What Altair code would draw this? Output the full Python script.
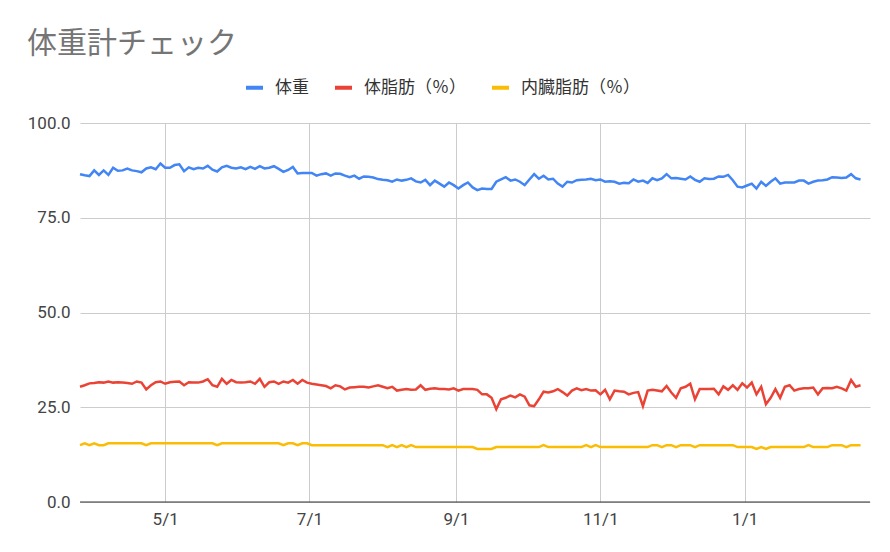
import altair as alt
import pandas as pd

# ---- data (one reading every 2 days from 2021-03-26) ----
start_date = "2021-03-26"
series_names = ["体重", "体脂肪（％）", "内臓脂肪（％）"]
series_colors = ["#4285F4", "#EA4335", "#FBBC04"]

weight = [
    86.5, 86.2, 86.0, 87.5, 86.3, 87.5, 86.3, 88.2, 87.4, 87.5,
    88.0, 87.5, 87.3, 87.0, 88.0, 88.3, 87.8, 89.3, 88.2, 88.2,
    88.9, 89.1, 87.3, 88.3, 87.8, 88.2, 88.0, 88.7, 87.7, 87.2,
    88.3, 88.7, 88.2, 88.0, 88.3, 87.8, 88.4, 87.9, 88.6, 88.0,
    88.2, 88.6, 87.9, 87.1, 87.6, 88.4, 86.7, 86.8, 86.8, 86.8,
    86.1, 86.5, 86.7, 86.1, 86.7, 86.6, 86.1, 85.7, 86.1, 85.3,
    85.9, 85.8, 85.6, 85.2, 85.0, 84.9, 84.5, 85.1, 84.8, 85.0,
    85.4, 84.6, 84.3, 85.0, 83.6, 84.8, 84.0, 83.2, 84.3, 83.6,
    82.7, 83.6, 84.3, 83.0, 82.3, 82.7, 82.6, 82.6, 84.5, 85.1,
    85.7, 84.8, 85.1, 84.5, 83.6, 85.1, 86.5, 85.3, 86.1, 85.1,
    85.3, 84.0, 83.2, 84.5, 84.3, 84.9, 85.0, 85.1, 85.3, 84.9,
    85.1, 84.5, 84.6, 84.5, 84.0, 84.2, 84.1, 85.1, 84.5, 84.8,
    84.2, 85.4, 84.9, 85.4, 86.5, 85.4, 85.5, 85.3, 85.1, 85.9,
    85.0, 84.5, 85.4, 85.2, 85.3, 85.9, 85.8, 86.3, 84.9, 83.2,
    83.0, 83.5, 84.0, 82.7, 84.5, 83.4, 84.5, 85.4, 84.0, 84.3,
    84.3, 84.3, 84.8, 84.8, 84.0, 84.5, 84.8, 84.9, 85.1, 85.7,
    85.6, 85.5, 85.6, 86.5, 85.4, 85.1,
]

body_fat = [
    30.4, 30.8, 31.3, 31.4, 31.6, 31.5, 31.8, 31.5, 31.6, 31.5,
    31.4, 31.2, 31.8, 31.5, 29.7, 30.8, 31.6, 31.8, 31.2, 31.6,
    31.7, 31.8, 30.8, 31.6, 31.5, 31.5, 31.8, 32.4, 30.8, 30.4,
    32.5, 31.2, 32.2, 31.6, 31.5, 31.6, 31.8, 31.2, 32.5, 30.4,
    31.6, 31.8, 31.2, 31.8, 31.5, 32.2, 31.2, 32.2, 31.5, 31.2,
    31.0, 30.8, 30.6, 30.0, 30.8, 30.5, 29.7, 30.2, 30.3, 30.4,
    30.4, 30.2, 30.5, 30.8, 30.4, 30.0, 30.4, 29.4, 29.6, 29.8,
    29.6, 29.7, 30.8, 29.6, 29.9, 30.0, 29.8, 29.8, 29.7, 30.0,
    29.4, 29.8, 29.8, 29.8, 29.6, 28.4, 28.4, 27.5, 24.5, 27.1,
    27.5, 28.1, 27.6, 28.4, 27.8, 25.5, 25.3, 27.1, 29.1, 28.9,
    29.2, 29.8, 29.0, 28.1, 29.4, 30.0, 29.5, 29.8, 29.4, 29.5,
    28.4, 29.6, 27.1, 29.4, 29.2, 29.1, 28.4, 28.8, 29.0, 25.3,
    29.4, 29.6, 29.4, 29.2, 30.6, 28.9, 27.5, 30.0, 30.4, 31.2,
    27.1, 29.8, 29.8, 29.8, 29.9, 28.4, 30.5, 29.6, 30.8, 29.6,
    31.3, 30.2, 31.5, 28.4, 30.4, 25.8, 27.5, 29.8, 27.5, 30.4,
    30.8, 29.4, 29.8, 30.0, 30.0, 30.2, 28.4, 30.0, 30.1, 30.0,
    30.4, 30.0, 29.4, 32.2, 30.4, 30.8,
]

visceral_fat = [
    15.0, 15.5, 15.0, 15.5, 15.0, 15.0, 15.5, 15.5, 15.5, 15.5,
    15.5, 15.5, 15.5, 15.5, 15.0, 15.5, 15.5, 15.5, 15.5, 15.5,
    15.5, 15.5, 15.5, 15.5, 15.5, 15.5, 15.5, 15.5, 15.5, 15.0,
    15.5, 15.5, 15.5, 15.5, 15.5, 15.5, 15.5, 15.5, 15.5, 15.5,
    15.5, 15.5, 15.5, 15.0, 15.5, 15.5, 15.0, 15.5, 15.5, 15.0,
    15.0, 15.0, 15.0, 15.0, 15.0, 15.0, 15.0, 15.0, 15.0, 15.0,
    15.0, 15.0, 15.0, 15.0, 15.0, 14.5, 15.0, 14.5, 15.0, 14.5,
    15.0, 14.5, 14.5, 14.5, 14.5, 14.5, 14.5, 14.5, 14.5, 14.5,
    14.5, 14.5, 14.5, 14.5, 14.0, 14.0, 14.0, 14.0, 14.5, 14.5,
    14.5, 14.5, 14.5, 14.5, 14.5, 14.5, 14.5, 14.5, 15.0, 14.5,
    14.5, 14.5, 14.5, 14.5, 14.5, 14.5, 14.5, 15.0, 14.5, 15.0,
    14.5, 14.5, 14.5, 14.5, 14.5, 14.5, 14.5, 14.5, 14.5, 14.5,
    14.5, 15.0, 15.0, 14.5, 15.0, 15.0, 14.5, 15.0, 15.0, 15.0,
    14.5, 15.0, 15.0, 15.0, 15.0, 15.0, 15.0, 15.0, 15.0, 14.5,
    14.5, 14.5, 14.5, 14.0, 14.5, 14.0, 14.5, 14.5, 14.5, 14.5,
    14.5, 14.5, 14.5, 14.5, 15.0, 14.5, 14.5, 14.5, 14.5, 15.0,
    15.0, 15.0, 14.5, 15.0, 15.0, 15.0,
]

x_tick_dates = [(2021, 5, 1), (2021, 7, 1), (2021, 9, 1), (2021, 11, 1), (2022, 1, 1)]
y_ticks = [0, 25, 50, 75, 100]

# ---- table ----
dates = pd.date_range(start_date, periods=len(weight), freq="2D").strftime("%Y-%m-%dT%H:%M:%S")
frames = []
for name, vals in zip(series_names, [weight, body_fat, visceral_fat]):
    frames.append(pd.DataFrame({"date": list(dates), "value": vals, "series": name}))
df = pd.concat(frames, ignore_index=True)

FONT = "Roboto, 'Noto Sans CJK JP', sans-serif"

lines = alt.Chart(df).mark_line(strokeWidth=2.5).encode(
    x=alt.X(
        "date:T",
        scale=alt.Scale(domain=[alt.DateTime(year=2021, month=3, date=26),
                                alt.DateTime(year=2022, month=2, date=23)]),
        axis=alt.Axis(
            values=[alt.DateTime(year=y, month=m, date=d) for (y, m, d) in x_tick_dates],
            format="%-m/%-d", title=None, grid=True, tickSize=0, domain=False,
            labelPadding=9,
        ),
    ),
    y=alt.Y(
        "value:Q",
        scale=alt.Scale(domain=[0, 100]),
        axis=alt.Axis(values=y_ticks, format=".1f", title=None, tickSize=0,
                      domain=False, labelPadding=10),
    ),
    color=alt.Color(
        "series:N",
        sort=series_names,
        scale=alt.Scale(domain=series_names, range=series_colors),
        legend=alt.Legend(
            title=None, orient="none", legendX=164, legendY=-46,
            direction="horizontal", symbolType="stroke", symbolStrokeWidth=4,
            symbolSize=289, labelFontSize=17, labelOffset=10, columnPadding=18,
            labelFont=FONT, labelColor="#333333", padding=0,
        ),
    ),
)

zero = alt.Chart(pd.DataFrame({"v": [0]})).mark_rule(color="#333333", strokeWidth=1).encode(
    y="v:Q"
)

chart = alt.layer(lines, zero).properties(
    width=790,
    height=379,
    title=alt.TitleParams(
        "体重計チェック", anchor="start", frame="group", fontSize=30,
        color="#757575", font=FONT, fontWeight="normal", dx=-53, offset=18,
    ),
    autosize=alt.AutoSizeParams(type="none"),
    padding={"left": 72, "top": 115, "right": 12, "bottom": 36},
).configure_view(stroke=None).configure_axis(
    gridColor="#cccccc", labelColor="#444444", labelFont=FONT, labelFontSize=17,
)

chart.save("out.html", embed_options={"renderer": "svg", "actions": False})
